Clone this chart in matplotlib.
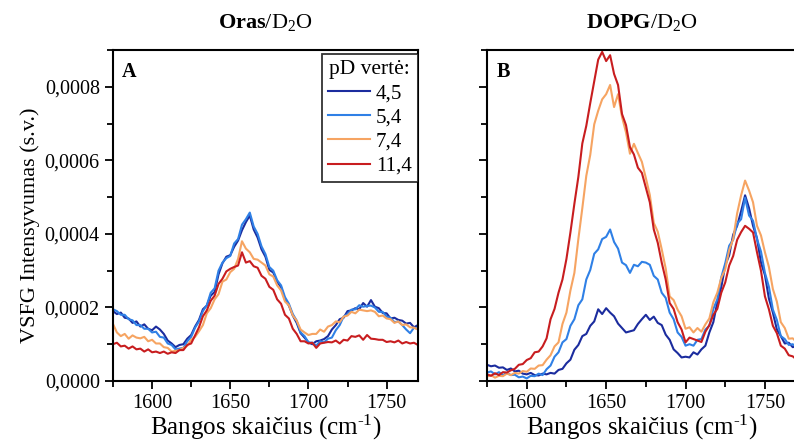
import numpy as np
import matplotlib
matplotlib.use('Agg')
import matplotlib.pyplot as plt
from matplotlib.ticker import MultipleLocator, FuncFormatter

plt.rcParams['font.family'] = ['Liberation Serif', 'DejaVu Serif']
plt.rcParams['mathtext.fontset'] = 'custom'
plt.rcParams['mathtext.rm'] = 'Liberation Serif'
plt.rcParams['mathtext.bf'] = 'Liberation Serif:bold'
plt.rcParams['mathtext.it'] = 'Liberation Serif:italic'

# bangos skaicius, kas 2.5 cm-1
wn = np.arange(1575, 1771, 2.5)

# intensyvumai, vienetais 1e-4
oras_45 = [1.90, 1.82, 1.86, 1.72, 1.70, 1.58, 1.62, 1.48, 1.54, 1.42,
           1.38, 1.48, 1.40, 1.28, 1.10, 1.02, 0.92, 0.98, 1.00, 1.15,
           1.25, 1.48, 1.66, 1.95, 2.05, 2.32, 2.42, 2.90, 3.20, 3.38,
           3.42, 3.65, 3.82, 4.10, 4.32, 4.50, 4.12, 3.90, 3.58, 3.38,
           3.02, 2.95, 2.70, 2.55, 2.22, 2.05, 1.78, 1.58, 1.30, 1.18,
           1.05, 1.00, 1.08, 1.10, 1.14, 1.22, 1.40, 1.52, 1.68, 1.72,
           1.90, 1.92, 1.98, 1.95, 2.12, 2.02, 2.20, 2.02, 1.98, 1.85,
           1.84, 1.70, 1.72, 1.66, 1.64, 1.56, 1.58, 1.46, 1.52]
oras_54 = [1.95, 1.90, 1.80, 1.80, 1.68, 1.65, 1.52, 1.52, 1.42, 1.42,
           1.32, 1.34, 1.20, 1.18, 1.02, 0.98, 0.86, 0.88, 0.90, 1.08,
           1.20, 1.45, 1.62, 1.90, 2.06, 2.40, 2.52, 3.00, 3.22, 3.34,
           3.40, 3.74, 3.86, 4.25, 4.40, 4.58, 4.20, 4.00, 3.66, 3.45,
           3.10, 3.00, 2.74, 2.60, 2.28, 2.10, 1.82, 1.64, 1.32, 1.22,
           1.05, 1.04, 0.96, 1.08, 1.05, 1.15, 1.18, 1.38, 1.52, 1.75,
           1.82, 1.94, 1.95, 2.06, 2.02, 2.04, 2.05, 2.00, 1.88, 1.88,
           1.75, 1.72, 1.60, 1.62, 1.52, 1.40, 1.30, 1.45, 1.42]
oras_74 = [1.55, 1.32, 1.22, 1.28, 1.15, 1.24, 1.18, 1.16, 1.20, 1.08,
           1.12, 1.02, 1.02, 0.92, 0.90, 0.80, 0.82, 0.84, 0.90, 0.96,
           1.12, 1.20, 1.35, 1.52, 1.84, 1.98, 2.22, 2.36, 2.70, 2.76,
           2.96, 3.05, 3.32, 3.80, 3.60, 3.50, 3.32, 3.30, 3.22, 3.14,
           2.90, 2.84, 2.60, 2.46, 2.16, 2.06, 1.78, 1.64, 1.40, 1.32,
           1.25, 1.28, 1.28, 1.40, 1.34, 1.48, 1.52, 1.62, 1.60, 1.75,
           1.78, 1.88, 1.84, 1.94, 1.92, 1.90, 1.92, 1.88, 1.76, 1.78,
           1.70, 1.68, 1.58, 1.62, 1.52, 1.54, 1.46, 1.45, 1.40]
oras_114 = [1.00, 1.04, 0.94, 0.96, 0.88, 0.94, 0.86, 0.88, 0.80, 0.86,
            0.78, 0.80, 0.76, 0.80, 0.74, 0.78, 0.76, 0.84, 0.84, 0.98,
            1.02, 1.24, 1.46, 1.76, 1.92, 2.18, 2.32, 2.64, 2.78, 2.98,
            3.05, 3.10, 3.14, 3.50, 3.22, 3.26, 3.12, 3.08, 2.86, 2.78,
            2.56, 2.48, 2.22, 2.10, 1.80, 1.70, 1.42, 1.28, 1.08, 1.08,
            1.02, 1.04, 0.90, 1.02, 1.04, 1.06, 1.05, 1.10, 1.02, 1.12,
            1.10, 1.22, 1.20, 1.24, 1.12, 1.25, 1.15, 1.14, 1.12, 1.12,
            1.06, 1.08, 1.05, 1.10, 1.02, 1.06, 1.02, 1.04, 0.98]

dopg_45 = [0.44, 0.40, 0.42, 0.36, 0.37, 0.30, 0.34, 0.26, 0.28, 0.20,
           0.18, 0.22, 0.16, 0.15, 0.20, 0.18, 0.22, 0.20, 0.30, 0.33,
           0.48, 0.58, 0.85, 0.98, 1.22, 1.28, 1.50, 1.62, 1.95, 1.82,
           1.98, 1.86, 1.76, 1.56, 1.44, 1.32, 1.35, 1.38, 1.55, 1.68,
           1.80, 1.66, 1.75, 1.58, 1.52, 1.26, 1.12, 0.86, 0.76, 0.64,
           0.66, 0.64, 0.78, 0.72, 0.86, 0.96, 1.32, 1.60, 2.14, 2.55,
           3.15, 3.42, 3.98, 4.22, 4.62, 5.05, 4.70, 4.22, 3.88, 3.22,
           2.88, 2.24, 1.86, 1.40, 1.22, 1.02, 1.04, 0.92, 0.94]
dopg_54 = [0.23, 0.26, 0.18, 0.24, 0.16, 0.22, 0.16, 0.17, 0.10, 0.12,
           0.07, 0.14, 0.13, 0.20, 0.16, 0.32, 0.42, 0.66, 0.78, 1.05,
           1.14, 1.50, 1.68, 2.06, 2.22, 2.76, 3.02, 3.46, 3.58, 3.86,
           3.92, 4.12, 3.78, 3.60, 3.22, 3.15, 2.94, 3.16, 3.12, 3.24,
           3.22, 3.16, 2.86, 2.76, 2.40, 2.26, 1.86, 1.68, 1.32, 1.20,
           0.96, 1.00, 0.96, 1.12, 1.14, 1.40, 1.50, 1.96, 2.22, 2.82,
           3.20, 3.68, 3.84, 4.28, 4.40, 4.98, 4.50, 4.36, 3.86, 3.52,
           2.94, 2.56, 1.94, 1.66, 1.22, 1.14, 0.98, 1.00, 0.92]
dopg_74 = [0.12, 0.16, 0.09, 0.14, 0.13, 0.20, 0.16, 0.22, 0.20, 0.27,
           0.25, 0.34, 0.33, 0.42, 0.43, 0.58, 0.70, 0.94, 1.05, 1.55,
           1.86, 2.46, 2.94, 3.86, 4.70, 5.58, 6.15, 6.98, 7.35, 7.66,
           7.80, 8.05, 7.45, 7.80, 7.18, 6.76, 6.18, 6.45, 6.20, 5.96,
           5.52, 5.06, 4.30, 4.06, 3.58, 3.06, 2.30, 2.20, 1.94, 1.76,
           1.42, 1.46, 1.32, 1.44, 1.34, 1.54, 1.70, 2.14, 2.40, 2.80,
           3.04, 3.56, 3.86, 4.56, 5.05, 5.45, 5.18, 4.86, 4.22, 3.96,
           3.50, 3.10, 2.50, 2.16, 1.60, 1.44, 1.15, 1.16, 1.06]
dopg_114 = [0.18, 0.14, 0.21, 0.16, 0.24, 0.23, 0.29, 0.33, 0.44, 0.46,
            0.57, 0.62, 0.78, 0.80, 0.94, 1.16, 1.68, 1.96, 2.40, 2.76,
            3.32, 4.04, 4.82, 5.55, 6.46, 6.94, 7.56, 8.15, 8.74, 8.95,
            8.70, 8.86, 8.35, 8.05, 7.26, 6.96, 6.36, 6.16, 5.80, 5.66,
            5.26, 4.86, 4.12, 3.76, 3.22, 2.76, 2.12, 1.96, 1.60, 1.40,
            1.05, 1.18, 1.14, 1.10, 1.06, 1.34, 1.52, 1.80, 1.96, 2.40,
            2.68, 3.14, 3.40, 3.84, 4.05, 4.22, 4.14, 4.04, 3.50, 3.00,
            2.30, 1.95, 1.50, 1.30, 0.96, 0.88, 0.70, 0.67, 0.58]

pd_labels = ['4,5', '5,4', '7,4', '11,4']
colors = ['#1b2c9e', '#2f80e6', '#f6a462', '#c81d1f']

fig = plt.figure(figsize=(7.94, 4.43), dpi=100)
axA = fig.add_axes([0.1423, 0.140, 0.384, 0.747])
axB = fig.add_axes([0.6134, 0.140, 0.390, 0.747])

fmt = FuncFormatter(lambda v, p: ('%.4f' % v).replace('.', ','))

for ax, series in [(axA, [oras_45, oras_54, oras_74, oras_114]),
                   (axB, [dopg_45, dopg_54, dopg_74, dopg_114])]:
    for s, c, lab in zip(series, colors, pd_labels):
        ax.plot(wn, np.array(s) * 1e-4, color=c, lw=1.5, label=lab)
    ax.set_xlim(1575, 1770)
    ax.set_ylim(0, 0.0009)
    ax.xaxis.set_major_locator(MultipleLocator(50))
    ax.xaxis.set_minor_locator(MultipleLocator(25))
    ax.yaxis.set_major_locator(MultipleLocator(0.0002))
    ax.yaxis.set_minor_locator(MultipleLocator(0.0001))
    ax.tick_params(which='both', direction='out', top=False, right=False,
                   labelsize=14.5, width=1.3)
    ax.tick_params(which='major', length=6)
    ax.tick_params(which='minor', length=4)
    for sp in ax.spines.values():
        sp.set_linewidth(1.5)
    ax.set_xlabel(r'Bangos skaičius (cm$^{\text{-1}}$)', fontsize=18, labelpad=0)

axA.yaxis.set_major_formatter(fmt)
axB.yaxis.set_major_formatter(FuncFormatter(lambda v, p: ''))
axA.set_ylabel('VSFG Intensyvumas (s.v.)', fontsize=16)
axA.yaxis.set_label_coords(-0.24, 0.47)

axA.set_title(r'$\mathbf{Oras}\mathrm{/D_2O}$', fontsize=16, pad=16)
axB.set_title(r'$\mathbf{DOPG}\mathrm{/D_2O}$', fontsize=16, pad=16)
axA.text(0.03, 0.965, 'A', transform=axA.transAxes, fontsize=14.5,
         fontweight='bold', va='top')
axB.text(0.03, 0.965, 'B', transform=axB.transAxes, fontsize=14.5,
         fontweight='bold', va='top')

leg = axA.legend(title='pD vertė:', loc='upper right', bbox_to_anchor=(1.0, 0.988),
                 borderaxespad=0, fontsize=15, title_fontsize=15.5,
                 fancybox=False, edgecolor='black', labelspacing=0.22,
                 handlelength=2.0, handletextpad=0.3, borderpad=0.3)
leg.get_frame().set_linewidth(1.3)

fig.savefig('out.png', dpi=100)
